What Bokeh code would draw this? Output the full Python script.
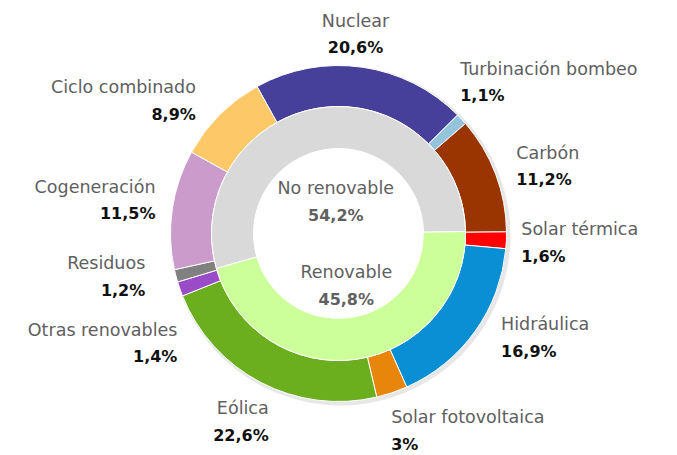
import math
from bokeh.plotting import figure
from bokeh.models import Range1d, ColumnDataSource
from bokeh.embed import file_html
from bokeh.resources import INLINE
from bokeh.core.properties import value

# ---- data ----
outer_labels = ["Nuclear", "Turbinación bombeo", "Carbón", "Solar térmica", "Hidráulica",
                "Solar fotovoltaica", "Eólica", "Otras renovables", "Residuos",
                "Cogeneración", "Ciclo combinado"]
outer_values = [20.6, 1.1, 11.2, 1.6, 16.9, 3.0, 22.6, 1.4, 1.2, 11.5, 8.9]
outer_text = ["20,6%", "1,1%", "11,2%", "1,6%", "16,9%", "3%", "22,6%", "1,4%", "1,2%", "11,5%", "8,9%"]
inner_labels = ["No renovable", "Renovable"]
inner_values = [54.2, 45.8]
inner_text = ["54,2%", "45,8%"]

# ---- style / layout ----
outer_colors = ["#47409A", "#93C4DC", "#9A3400", "#FF0000", "#0A8FD5", "#E8860C",
                "#6BAE1E", "#9A4CC8", "#808080", "#CB9CCB", "#FCC868"]
inner_colors = ["#D9D9D9", "#CCFF99"]
W, H = 677, 455
CX, CY = 338, H - 233
R_OUT, R_MID, R_IN = 168, 127, 85
OUTER_START = -29.0   # degrees clockwise from 12 o'clock
INNER_START = -106.0
# label placement (angle nudge in degrees, radius)
lab_nudge = [-3.2, -8.3, 0.0, 0.5, -3.0, 3.6, -7.2, -15.0, 2.0, 2.0, -2.0]
lab_rad = [200, 194, 190, 183, 193, 204, 201, 195, 198, 186, 195]

p = figure(width=W, height=H, output_backend="svg", toolbar_location=None,
           x_range=Range1d(0, W), y_range=Range1d(0, H), min_border=0)
p.axis.visible = False
p.grid.visible = False
p.outline_line_color = None
p.background_fill_color = "white"


def to_std(theta_deg):
    return math.radians(90.0 - theta_deg)


def ring(values, colors, start, r0, r1):
    total = sum(values)
    cum = start
    s, e, mids = [], [], []
    for v in values:
        a0 = cum
        a1 = cum + v / total * 360.0
        s.append(to_std(a0))
        e.append(to_std(a1))
        mids.append((a0 + a1) / 2)
        cum = a1
    src = ColumnDataSource(dict(x=[CX] * len(values), y=[CY] * len(values),
                                s=s, e=e, c=colors))
    p.annular_wedge(x="x", y="y", inner_radius=r0, outer_radius=r1,
                    start_angle="s", end_angle="e", direction="clock",
                    fill_color="c", line_color="white", line_width=1, source=src)
    return mids

# soft shadow
p.annulus(x=CX + 2, y=CY - 2, inner_radius=R_OUT - 4, outer_radius=R_OUT + 2,
          fill_color="#BBBBBB", fill_alpha=0.35, line_color=None)

mids = ring(outer_values, outer_colors, OUTER_START, R_MID, R_OUT)
imids = ring(inner_values, inner_colors, INNER_START, R_IN, R_MID)

# outer labels
nx, ny, px_, py_, al = [], [], [], [], []
for i, m in enumerate(mids):
    a = math.radians(m + lab_nudge[i])
    x = CX + lab_rad[i] * math.sin(a)
    y = CY + lab_rad[i] * math.cos(a)
    if abs(x - CX) < 40:
        align = "center"
    elif x > CX:
        align = "left"
    else:
        align = "right"
    nx.append(x); ny.append(y + 13.5)
    px_.append(x); py_.append(y - 13.5)
    al.append(align)

src_n = ColumnDataSource(dict(x=nx, y=ny, t=outer_labels, a=al))
src_p = ColumnDataSource(dict(x=px_, y=py_, t=outer_text, a=al))
p.text(x="x", y="y", text="t", text_align="a", text_baseline="middle", source=src_n,
       text_font=value("DejaVu Sans"), text_font_size="17.5px", text_color="#606060")
p.text(x="x", y="y", text="t", text_align="a", text_baseline="middle", source=src_p,
       text_font=value("DejaVu Sans"), text_font_size="16px", text_font_style="bold",
       text_color="#111111")

# inner labels
in_off = [32, 53]
ix, iy = [], []
for i, m in enumerate(imids):
    a = math.radians(m)
    ix.append(CX + in_off[i] * math.sin(a) + (2 if i == 0 else 0))
    iy.append(CY + in_off[i] * math.cos(a))
src_in = ColumnDataSource(dict(x=ix, y=[v + 13.5 for v in iy], t=inner_labels))
src_ip = ColumnDataSource(dict(x=ix, y=[v - 13.5 for v in iy], t=inner_text))
p.text(x="x", y="y", text="t", text_align="center", text_baseline="middle", source=src_in,
       text_font=value("DejaVu Sans"), text_font_size="17.5px", text_color="#606060")
p.text(x="x", y="y", text="t", text_align="center", text_baseline="middle", source=src_ip,
       text_font=value("DejaVu Sans"), text_font_size="16px", text_font_style="bold",
       text_color="#606060")

open("out.html", "w").write(file_html(p, INLINE))
